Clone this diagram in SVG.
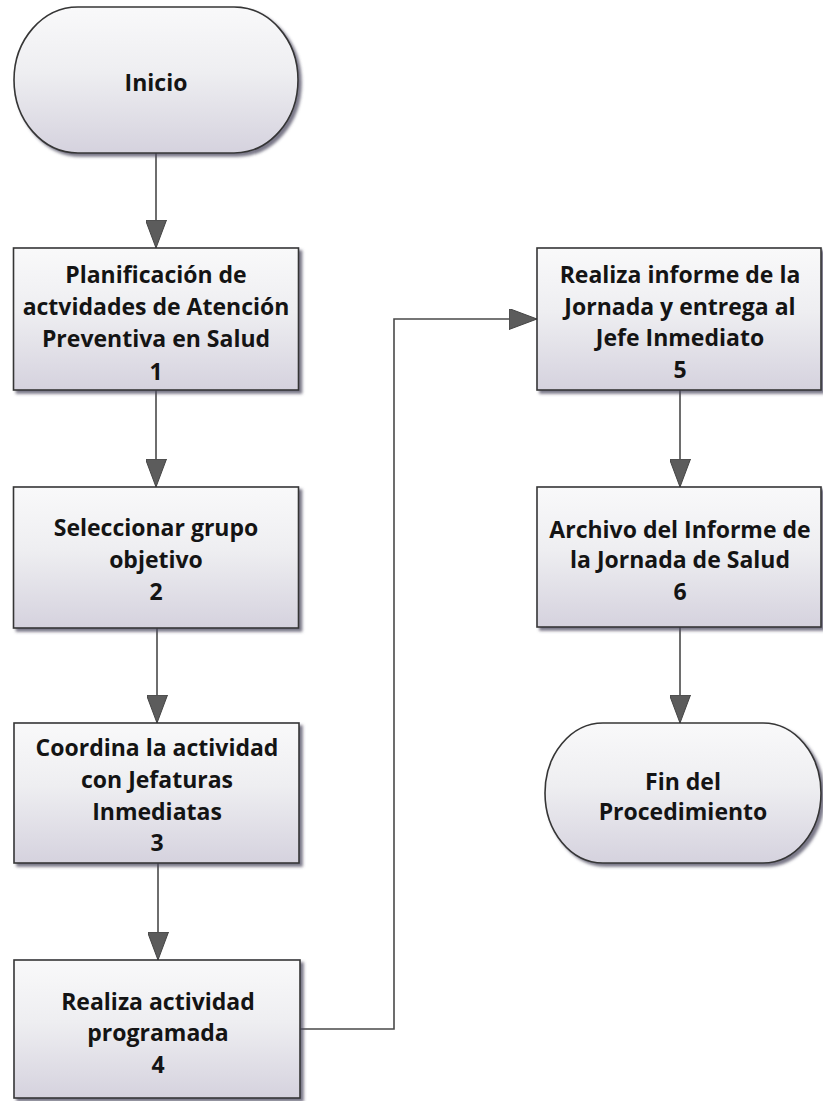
<svg xmlns="http://www.w3.org/2000/svg" width="823" height="1101" viewBox="0 0 823 1101">
<defs>
<style>
.shape{fill:url(#g);stroke:#363636;stroke-width:1.6;filter:url(#sh)}
.lbl{font-family:"Open Sans","Noto Sans",sans-serif;font-weight:700;font-size:23px;fill:#141414;text-anchor:middle}
.con{fill:none;stroke:#4a4a4a;stroke-width:1.6}
</style>
<linearGradient id="g" x1="0" y1="0" x2="0" y2="1">
<stop offset="0" stop-color="#f9f9fa"/>
<stop offset="0.45" stop-color="#eeeef1"/>
<stop offset="1" stop-color="#d5d2de"/>
</linearGradient>
<filter id="sh" x="-10%" y="-10%" width="125%" height="125%">
<feDropShadow dx="3" dy="3" stdDeviation="1.8" flood-color="#4d4a5e" flood-opacity="0.75"/>
</filter>
<marker id="ah" viewBox="0 0 28 21" refX="28" refY="10.5" markerWidth="28" markerHeight="21" markerUnits="userSpaceOnUse" orient="auto">
<path d="M0,0 L28,10.5 L0,21 Z" fill="#5c5c5c" stroke="#444" stroke-width="1"/>
</marker>
</defs>
<rect width="823" height="1101" fill="#ffffff"/>

<g id="connectors">
<path class="con" d="M156,153 V248" marker-end="url(#ah)"/>
<path class="con" d="M156,390 V487" marker-end="url(#ah)"/>
<path class="con" d="M157,628 V723" marker-end="url(#ah)"/>
<path class="con" d="M158,863 V960" marker-end="url(#ah)"/>
<path class="con" d="M300,1029 H394 V319 H537" marker-end="url(#ah)"/>
<path class="con" d="M680,390 V487" marker-end="url(#ah)"/>
<path class="con" d="M680,627 V723" marker-end="url(#ah)"/>
</g>

<g id="inicio">
<rect class="shape" x="14" y="7" width="284" height="146" rx="64" ry="73"/>
<text class="lbl" x="156" y="91">Inicio</text>
</g>

<g id="n1">
<rect class="shape" x="13.5" y="248" width="285" height="142"/>
<text class="lbl" x="156" y="283">Planificación de</text>
<text class="lbl" x="156" y="315">actvidades de Atención</text>
<text class="lbl" x="156" y="347">Preventiva en Salud</text>
<text class="lbl" x="156" y="380">1</text>
</g>

<g id="n2">
<rect class="shape" x="13.5" y="487" width="285" height="141"/>
<text class="lbl" x="156" y="536">Seleccionar grupo</text>
<text class="lbl" x="156" y="568">objetivo</text>
<text class="lbl" x="156" y="600">2</text>
</g>

<g id="n3">
<rect class="shape" x="14" y="723" width="285" height="140"/>
<text class="lbl" x="157" y="756">Coordina la actividad</text>
<text class="lbl" x="157" y="788">con Jefaturas</text>
<text class="lbl" x="157" y="820">Inmediatas</text>
<text class="lbl" x="157" y="851">3</text>
</g>

<g id="n4">
<rect class="shape" x="14" y="960" width="286" height="138"/>
<text class="lbl" x="158" y="1010">Realiza actividad</text>
<text class="lbl" x="158" y="1041">programada</text>
<text class="lbl" x="158" y="1073">4</text>
</g>

<g id="n5">
<rect class="shape" x="537" y="248" width="284" height="142"/>
<text class="lbl" x="680" y="283">Realiza informe de la</text>
<text class="lbl" x="680" y="315">Jornada y entrega al</text>
<text class="lbl" x="680" y="346">Jefe Inmediato</text>
<text class="lbl" x="680" y="378">5</text>
</g>

<g id="n6">
<rect class="shape" x="537" y="487" width="284" height="140"/>
<text class="lbl" x="680" y="538">Archivo del Informe de</text>
<text class="lbl" x="680" y="568">la Jornada de Salud</text>
<text class="lbl" x="680" y="600">6</text>
</g>

<g id="fin">
<rect class="shape" x="545" y="723" width="276" height="140" rx="58" ry="70"/>
<text class="lbl" x="683" y="790">Fin del</text>
<text class="lbl" x="683" y="820">Procedimiento</text>
</g>
</svg>
